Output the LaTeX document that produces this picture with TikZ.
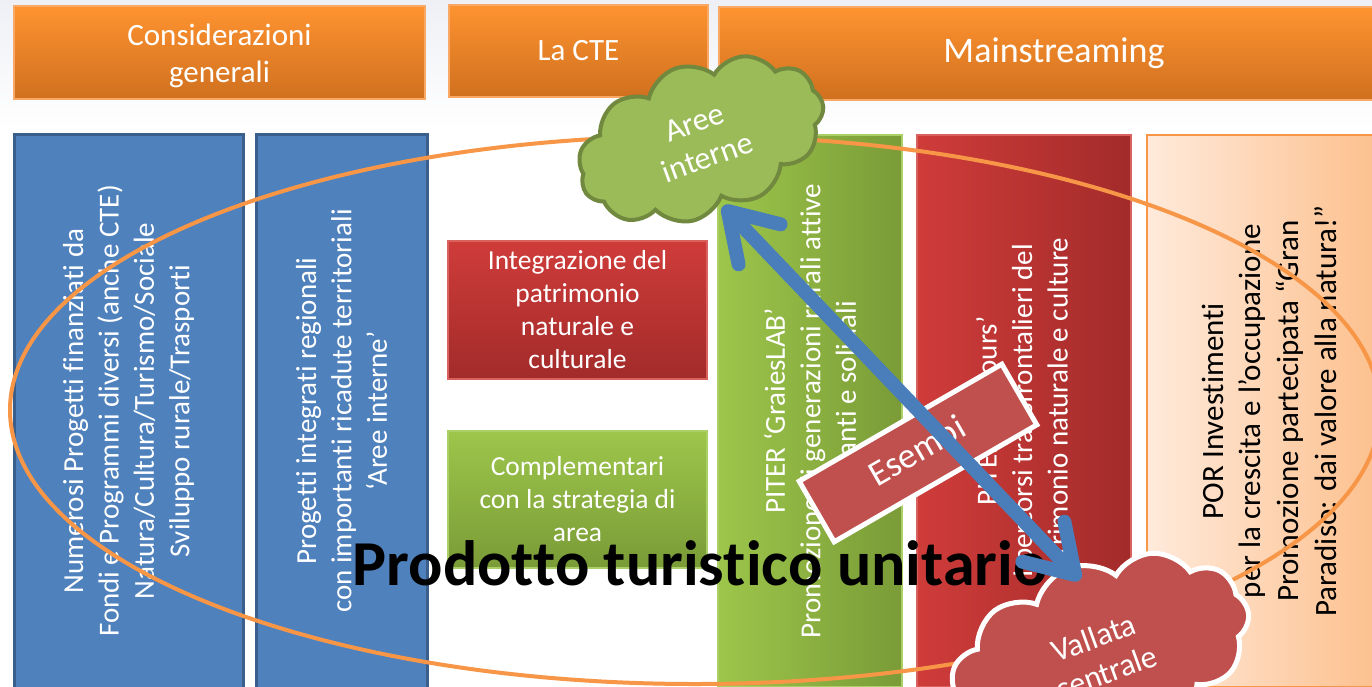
\documentclass[tikz,border=0pt]{standalone}
\usepackage{fontspec}
\setmainfont{Carlito}[Ligatures={NoCommon}]
\usetikzlibrary{shapes.symbols,shapes.geometric,arrows.meta}
\definecolor{hdrtop}{HTML}{FE9330}
\definecolor{hdrbot}{HTML}{D0701F}
\definecolor{hdrline}{HTML}{F9A865}
\definecolor{bluefill}{HTML}{4F81BD}
\definecolor{blueline}{HTML}{3A5F8C}
\definecolor{redtop}{HTML}{CF3C3A}
\definecolor{redbot}{HTML}{A22B2A}
\definecolor{redline}{HTML}{D9625F}
\definecolor{grntop}{HTML}{9DC64B}
\definecolor{grnbot}{HTML}{7A9B37}
\definecolor{grnline}{HTML}{A9CF66}
\definecolor{porleft}{HTML}{FFEADB}
\definecolor{porright}{HTML}{FCBD88}
\definecolor{orline}{HTML}{F79646}
\definecolor{cloudgreen}{HTML}{9BBB59}
\definecolor{cloudgreenline}{HTML}{71893F}
\definecolor{accred}{HTML}{C0504D}
\definecolor{arrowblue}{HTML}{4A7EBB}
\definecolor{bgtop}{HTML}{EEF0F5}
\begin{document}
\begin{tikzpicture}[x=1pt,y=1pt,
  hdr/.style={rectangle, inner sep=0pt, top color=hdrtop, bottom color=hdrbot, draw=hdrline, line width=1.5pt, text=white, align=center},
  hdrtext/.style={inner sep=0pt, text=white, align=center},
  bluebox/.style={rectangle, inner sep=0pt, fill=bluefill, draw=blueline, line width=3pt},
  redsmall/.style={rectangle, inner sep=0pt, top color=redtop, bottom color=redbot, draw=redline, line width=1.2pt, text=white, align=center, font=\fontsize{27.5}{33}\selectfont},
  grnsmall/.style={rectangle, inner sep=0pt, top color=grntop, bottom color=grnbot, draw=grnline, line width=1.2pt, text=white, align=center, font=\fontsize{27.5}{33}\selectfont},
  grncol/.style={rectangle, inner sep=0pt, left color=grntop, right color=grnbot, draw=grnline, line width=1.2pt},
  redcol/.style={rectangle, inner sep=0pt, left color=redtop, right color=redbot, draw=redline, line width=1.2pt},
  porcol/.style={rectangle, inner sep=0pt, left color=porleft, right color=porright, draw=orline, line width=2.5pt},
  coltext/.style={rotate=90, align=center, text=white, inner sep=0pt, font=\fontsize{29}{35.4}\selectfont},
  portext/.style={rotate=90, align=center, text=black, inner sep=0pt, font=\fontsize{31}{37.7}\selectfont},
  bigring/.style={ellipse, draw=orline, line width=4pt, inner sep=0pt},
  esbox/.style={rectangle, inner sep=0pt, fill=accred, draw=white, line width=5pt, text=white, font=\fontsize{36}{40}\selectfont},
  cloudbase/.style={cloud, cloud puffs=11, cloud puff arc=115, cloud ignores aspect, inner sep=0pt, text=white, align=center, font=\fontsize{32}{37}\selectfont},
  bluearrow/.style={draw=arrowblue, line width=14pt, line cap=round,
    {Straight Barb[length=46pt,width=58pt,line cap=round,line join=round]}-{Straight Barb[length=46pt,width=58pt,line cap=round,line join=round]}}
]
\useasboundingbox (0,0) rectangle (1372,-686);
\fill[white] (0,0) rectangle (1372,-686);
\shade[top color=bgtop, bottom color=white] (0,0) rectangle (1372,-130);

% headers
\node[hdr, minimum width=411pt, minimum height=93pt] (h1) at (219.5,-52.5) {};
\node[hdrtext, font=\fontsize{31}{37}\selectfont] (h1t) at ([yshift=-3pt]h1.center) {Considerazioni\\generali};
\node[hdr, minimum width=259pt, minimum height=92pt, font=\fontsize{31}{38}\selectfont] (h2) at (578.5,-51) {La CTE};
\node[hdr, minimum width=670pt, minimum height=93pt, font=\fontsize{36}{43}\selectfont] (h3) at (1054,-53.5) {Mainstreaming};

% columns
\node[bluebox, minimum width=229pt, minimum height=554pt] (b1) at (128.5,-411) {};
\node[coltext] (t1) at (b1.center) {Numerosi Progetti finanziati da\\Fondi e Programmi diversi (anche CTE)\\Natura/Cultura/Turismo/Sociale\\Sviluppo rurale/Trasporti};
\node[bluebox, minimum width=171pt, minimum height=554pt] (b2) at (341.5,-411) {};
\node[coltext] (t2) at (b2.center) {Progetti integrati regionali\\con importanti ricadute territoriali\\‘Aree interne’};

\node[redsmall, minimum width=259pt, minimum height=138pt] (rs) at (577.5,-310) {Integrazione del\\patrimonio\\naturale e\\culturale};
\node[grnsmall, minimum width=259pt, minimum height=137pt] (gs) at (577.5,-499.5) {Complementari\\con la strategia di\\area};

\node[grncol, minimum width=184pt, minimum height=552pt] (gc) at (810,-411) {};
\node[coltext] (t3) at (gc.center) {PITER ‘GraiesLAB’\\Promozione di generazioni rurali attive\\innovanti e solidali};
\node[redcol, minimum width=214pt, minimum height=552pt] (rc) at (1024,-411) {};
\node[coltext] (t4) at (rc.center) {PITER ‘Parcours’\\I percorsi transfrontalieri del\\patrimonio naturale e culture};
\node[porcol, minimum width=248pt, minimum height=552pt] (pc) at (1271,-411) {};
\node[portext] (t5) at (1269,-411) {POR Investimenti\\per la crescita e l’occupazione\\Promozione partecipata “Gran\\Paradiso: dai valore alla natura!”};

% ring
\node[bigring, minimum width=1370pt, minimum height=548pt] (ring) at (695,-410) {};

% big label
\node[anchor=base, inner sep=0pt, font=\fontsize{64}{70}\selectfont\bfseries] (prod) at (700,-585) {Prodotto turistico unitario};

% esempi
\node[esbox, minimum width=234pt, minimum height=70pt, rotate=30] (es) at (918,-453) {Esempi};

% clouds
\node[cloudbase, fill=cloudgreen, draw=cloudgreenline, line width=4pt, minimum width=255pt, minimum height=152pt, rotate=20] (aree) at (701,-140) {Aree\\interne};
\node[cloudbase, fill=accred, draw=white, line width=5pt, minimum width=310pt, minimum height=185pt, rotate=20] (vall) at (1100,-655) {Vallata\\centrale};

% arrow
\coordinate (atip) at (723,-206);
\coordinate (vtip) at (1080,-580);
\draw[bluearrow] (atip) -- (vtip);
\end{tikzpicture}
\end{document}
